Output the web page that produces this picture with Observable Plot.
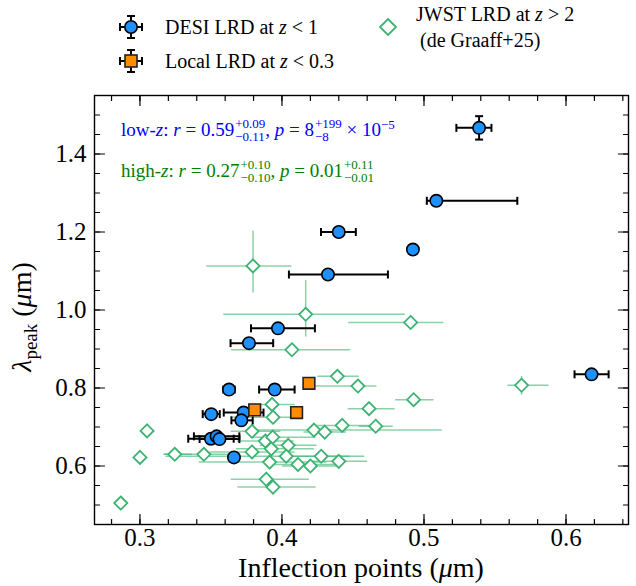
<!DOCTYPE html>
<html><head><meta charset="utf-8">
<script src="https://cdn.jsdelivr.net/npm/d3@7"></script>
<script src="https://cdn.jsdelivr.net/npm/@observablehq/plot@0.6"></script>
<style>
body{margin:0;background:#fff;}
#wrap{position:relative;width:636px;height:586px;font-family:"Liberation Serif","Times New Roman",Times,"DejaVu Serif",serif;overflow:hidden;}
#legend{position:absolute;left:0;top:0;}
#chart{position:absolute;left:0;top:80px;}
.ann{position:absolute;font-family:"Liberation Serif","Times New Roman",Times,"DejaVu Serif",serif;font-size:19px;white-space:nowrap;line-height:1;}
.ss{display:inline-block;vertical-align:-0.38em;font-size:13px;line-height:1.0;margin-left:1px;}
.ss span{display:block;}
.sp{font-size:13px;vertical-align:0.55em;line-height:0;}
</style></head>
<body><div id="wrap"><svg id="legend" width="636" height="80"></svg><div id="chart"></div>
<div class="ann" style="left:121px;top:117px;color:#0000ff">low-<i>z</i>: <i>r</i> = 0.59<span class="ss"><span>+0.09</span><span>−0.11</span></span>, <i>p</i> = 8<span class="ss"><span>+199</span><span>−8</span></span> × 10<span class="sp">−5</span></div>
<div class="ann" style="left:121px;top:158px;color:#008000">high-<i>z</i>: <i>r</i> = 0.27<span class="ss"><span>+0.10</span><span>−0.10</span></span>, <i>p</i> = 0.01<span class="ss"><span>+0.11</span><span>−0.01</span></span></div>
</div>
<script>
// ---- DESI LRD at z<1 ----
const desiX   = [0.5388,0.5087,0.4922,0.4324,0.4400,0.3972,0.3768,0.3627,0.3949,0.6180,0.3502,0.3730,0.3714,0.3500,0.3540,0.3560,0.3662];
const desiY   = [1.467, 1.280, 1.155, 1.091, 1.200, 0.953, 0.915, 0.796, 0.796, 0.835, 0.733, 0.737, 0.717, 0.670, 0.676, 0.669, 0.622];
const desiXlo = [0.016, 0.0067,0,     0.0275,0.0125,0.019, 0.013, 0.004, 0.011, 0.012, 0.006, 0.014, 0.007, 0.016, 0.016, 0.014, 0];
const desiXhi = [0.0087,0.057, 0,     0.0422,0.012, 0.026, 0.017, 0.004, 0.014, 0.012, 0.006, 0.014, 0.008, 0.016, 0.016, 0.014, 0];
const desiYlo = [0.03,  0,     0,     0,     0,     0,     0,     0,     0,     0,     0,     0,     0,     0,     0,     0,     0];
const desiYhi = [0.03,  0,     0,     0,     0,     0,     0,     0,     0,     0,     0,     0,     0,     0,     0,     0,     0];
// ---- Local LRD at z<0.3 ----
const localX = [0.3808,0.4103,0.4190];
const localY = [0.744, 0.737, 0.812];
// ---- JWST LRD at z>2 (de Graaff+25) ----
const jwstX   = [0.2865,0.305,0.300,0.3245,0.345,0.3789,0.3937,0.393,0.4225,0.4301,0.4424,0.466,0.439,0.4535,0.4613,0.4927,0.5687,0.4906,0.4167,0.407,0.3796,0.3883,0.3935,0.4044,0.3925,0.3789,0.403,0.4276,0.4113,0.420,0.440,0.3913,0.3889,0.3937];
const jwstY   = [0.505,0.690,0.622,0.630,0.630,0.689,0.725,0.758,0.692,0.687,0.704,0.702,0.830,0.805,0.747,0.770,0.807,0.968,0.989,0.898,1.113,0.664,0.674,0.653,0.644,0.636,0.625,0.625,0.604,0.600,0.612,0.610,0.566,0.546];
const jwstXlo = [0,0.004,0.003,0.008,0.028,0.015,0.03,0.016,0.042,0.015,0.02,0.012,0.014,0.03,0.015,0.013,0.01,0.044,0.058,0.043,0.033,0.02,0.015,0.02,0.025,0.03,0.085,0.02,0.02,0.02,0.02,0.05,0.025,0.025];
const jwstXhi = [0,0.004,0.003,0.012,0.025,0.02,0.018,0.016,0.09,0.015,0.02,0.012,0.015,0.013,0.018,0.014,0.019,0.023,0.07,0.041,0.027,0.02,0.03,0.02,0.03,0.03,0.055,0.02,0.03,0.02,0.02,0.04,0.03,0.03];
const jwstYlo = [0,0,0,0,0,0,0,0,0.01,0,0,0,0,0,0,0,0.024,0,0.057,0,0.068,0,0,0,0,0,0,0,0,0,0,0,0,0];
const jwstYhi = [0,0,0,0,0,0,0,0,0.01,0,0,0,0,0,0,0,0.024,0,0.088,0,0.09,0,0,0,0,0,0,0,0,0,0,0,0,0];
// ---- axes ----
const xMajorTicks = [0.3,0.4,0.5,0.6];
const xMinorTicks = [0.28,0.30,0.32,0.34,0.36,0.38,0.40,0.42,0.44,0.46,0.48,0.50,0.52,0.54,0.56,0.58,0.60,0.62,0.64];
const yMajorTicks = [0.6,0.8,1.0,1.2,1.4];
const yMinorTicks = [0.5,0.55,0.6,0.65,0.7,0.75,0.8,0.85,0.9,0.95,1.0,1.05,1.1,1.15,1.2,1.25,1.3,1.35,1.4,1.45,1.5];

const BLUE="#1e90ff", ORANGE="#ff8c00", GREEN="#3cb371";
const SERIF = "'Liberation Serif','Times New Roman',Times,'DejaVu Serif',serif";

function rows(X,Y,XL,XH,YL,YH){
  return X.map((x,i)=>({x, y:Y[i], xlo:x-XL[i], xhi:x+XH[i], ylo:Y[i]-YL[i], yhi:Y[i]+YH[i], hx:XL[i]+XH[i]>0, hy:YL[i]+YH[i]>0}));
}
const desi = rows(desiX,desiY,desiXlo,desiXhi,desiYlo,desiYhi);
const jwst = rows(jwstX,jwstY,jwstXlo,jwstXhi,jwstYlo,jwstYhi);
const local = localX.map((x,i)=>({x,y:localY[i]}));

const capV = {draw(c,s){const h=Math.sqrt(s)/2;c.moveTo(0,-h);c.lineTo(0,h);}};
const capH = {draw(c,s){const h=Math.sqrt(s)/2;c.moveTo(-h,0);c.lineTo(h,0);}};
const capR = Math.sqrt(64/Math.PI);
const xCaps = desi.filter(d=>d.hx).flatMap(d=>[{x:d.xlo,y:d.y},{x:d.xhi,y:d.y}]);
const yCaps = desi.filter(d=>d.hy).flatMap(d=>[{x:d.x,y:d.ylo},{x:d.x,y:d.yhi}]);
const tickShape = {draw(c,l){c.moveTo(0,0);c.lineTo(0,-l);}};

function ticks(data, k, anchor, rot, len){
  const o = {frameAnchor:anchor, length:len, rotate:rot, anchor:"start", shape:tickShape, stroke:"black", strokeWidth:1.2};
  o[k] = d=>d;
  return Plot.vector(data, o);
}

const plot = Plot.plot({
  width:636, height:506,
  marginLeft:94, marginRight:8, marginTop:15, marginBottom:62,
  style:{fontFamily:SERIF, fontSize:"25px", color:"black", background:"white"},
  x:{domain:[0.268,0.644], label:null},
  y:{domain:[0.45,1.55], label:null},
  marks:[
    Plot.link(jwst.filter(d=>d.hx),{x1:"xlo",x2:"xhi",y1:"y",y2:"y",stroke:GREEN,strokeOpacity:0.6,strokeWidth:1.5}),
    Plot.link(jwst.filter(d=>d.hy),{x1:"x",x2:"x",y1:"ylo",y2:"yhi",stroke:GREEN,strokeOpacity:0.6,strokeWidth:1.5}),
    Plot.dot(jwst,{x:"x",y:"y",symbol:"diamond2",r:5.9,stroke:GREEN,strokeWidth:1.8,fill:"white"}),
    Plot.link(desi.filter(d=>d.hx),{x1:"xlo",x2:"xhi",y1:"y",y2:"y",stroke:"black",strokeWidth:2}),
    Plot.link(desi.filter(d=>d.hy),{x1:"x",x2:"x",y1:"ylo",y2:"yhi",stroke:"black",strokeWidth:2}),
    Plot.dot(xCaps,{x:"x",y:"y",symbol:capV,r:capR,stroke:"black",strokeWidth:2,fill:"none"}),
    Plot.dot(yCaps,{x:"x",y:"y",symbol:capH,r:capR,stroke:"black",strokeWidth:2,fill:"none"}),
    Plot.dot(desi,{x:"x",y:"y",r:6.2,fill:BLUE,stroke:"black",strokeWidth:1.6}),
    Plot.dot(local,{x:"x",y:"y",symbol:"square",r:6.6,fill:ORANGE,stroke:"#222",strokeWidth:1.6}),
    Plot.frame({stroke:"black",strokeWidth:1.4}),
    ticks(xMinorTicks,"x","bottom",0,5), ticks(xMajorTicks,"x","bottom",0,10),
    ticks(xMinorTicks,"x","top",180,5), ticks(xMajorTicks,"x","top",180,10),
    ticks(yMinorTicks,"y","left",90,5), ticks(yMajorTicks,"y","left",90,10),
    ticks(yMinorTicks,"y","right",-90,5), ticks(yMajorTicks,"y","right",-90,10),
    Plot.axisX(xMajorTicks,{anchor:"bottom",tickSize:0,tickPadding:4,tickFormat:d=>d.toFixed(1),fontSize:25,fontFamily:SERIF,label:null}),
    Plot.axisY(yMajorTicks,{anchor:"left",tickSize:0,tickPadding:8,tickFormat:d=>d.toFixed(1),fontSize:25,fontFamily:SERIF,label:null})
  ]
});
document.getElementById("chart").appendChild(plot);

// axis titles
const svg = d3.select(plot);
const xt = svg.append("text").attr("x",361).attr("y",497).attr("text-anchor","middle")
  .style("font-family",SERIF).attr("font-size",28).attr("fill","black");
xt.append("tspan").text("Inflection points (");
xt.append("tspan").attr("font-style","italic").text("μ");
xt.append("tspan").text("m)");
const yt = svg.append("text").attr("transform","translate(31,237) rotate(-90)").attr("text-anchor","middle")
  .style("font-family",SERIF).attr("font-size",28).attr("fill","black");
yt.append("tspan").attr("font-style","italic").text("λ");
yt.append("tspan").attr("font-size",19).attr("dy",6).text("peak");
yt.append("tspan").attr("dy",-6).text(" (");
yt.append("tspan").attr("font-style","italic").text("μ");
yt.append("tspan").text("m)");

// legend
const lg = d3.select("#legend");
function errMarker(cx,cy){
  const g = lg.append("g").attr("stroke","black").attr("stroke-width",2);
  g.append("line").attr("x1",cx-11).attr("x2",cx+11).attr("y1",cy).attr("y2",cy);
  g.append("line").attr("x1",cx).attr("x2",cx).attr("y1",cy-11).attr("y2",cy+11);
  g.append("line").attr("x1",cx-11).attr("x2",cx-11).attr("y1",cy-4).attr("y2",cy+4);
  g.append("line").attr("x1",cx+11).attr("x2",cx+11).attr("y1",cy-4).attr("y2",cy+4);
  g.append("line").attr("x1",cx-4).attr("x2",cx+4).attr("y1",cy-11).attr("y2",cy-11);
  g.append("line").attr("x1",cx-4).attr("x2",cx+4).attr("y1",cy+11).attr("y2",cy+11);
}
errMarker(131,27);
lg.append("circle").attr("cx",131).attr("cy",27).attr("r",6.2).attr("fill",BLUE).attr("stroke","black").attr("stroke-width",1.6);
errMarker(131,61);
lg.append("rect").attr("x",125).attr("y",55).attr("width",12).attr("height",12).attr("fill",ORANGE).attr("stroke","#222").attr("stroke-width",1.6);
lg.append("path").attr("d","M388,19L396,27L388,35L380,27Z").attr("fill","white").attr("stroke",GREEN).attr("stroke-width",1.8);
function ltext(x,y,parts){
  const t = lg.append("text").attr("x",x).attr("y",y).style("font-family",SERIF).attr("font-size",20).attr("fill","black");
  parts.forEach(p=>{const s=t.append("tspan").text(p[0]); if(p[1]) s.attr("font-style","italic");});
}
ltext(165,34,[["DESI LRD at "],["z",1],[" < 1"]]);
ltext(165,68,[["Local LRD at "],["z",1],[" < 0.3"]]);
ltext(416,21,[["JWST LRD at "],["z",1],[" > 2"]]);
ltext(420,47,[["(de Graaff+25)"]]);
</script>
</body></html>
